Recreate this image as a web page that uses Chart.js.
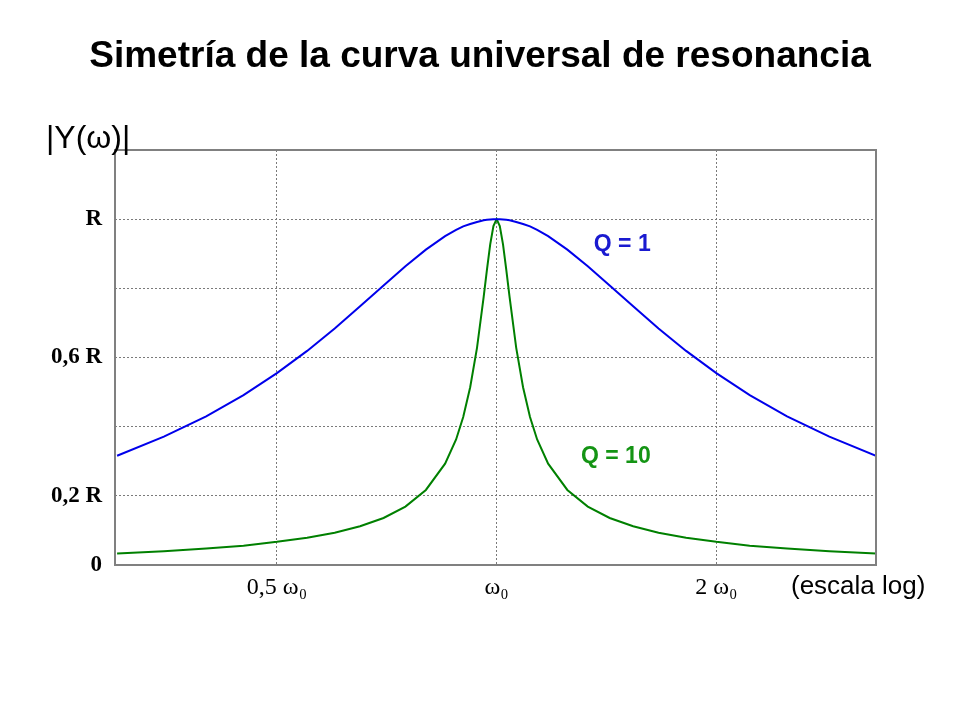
<!DOCTYPE html>
<html>
<head>
<meta charset="utf-8">
<script src="https://cdn.jsdelivr.net/npm/chart.js@4.4.1/dist/chart.umd.min.js"></script>
<style>
  body { margin: 0; background: #fff; }
  #wrap { width: 960px; height: 720px; position: relative; }
</style>
</head>
<body>
<div id="wrap"><canvas id="chart"></canvas></div>
<script>
// omega / omega0 (log axis)
const freq = [0.302, 0.35, 0.4, 0.45, 0.5, 0.55, 0.6, 0.65, 0.7, 0.75, 0.8, 0.85, 0.88, 0.9, 0.92, 0.94, 0.96, 0.97, 0.98, 0.99,
  1.0,
  1.0101, 1.0204, 1.0309, 1.0417, 1.0638, 1.087, 1.1111, 1.1364, 1.1765, 1.25, 1.3333, 1.4286, 1.5385, 1.6667, 1.8182, 2.0, 2.2222, 2.5, 2.8571, 3.31];

// |Y| / R for Q = 1
const ampQ1 = [0.316, 0.371, 0.430, 0.491, 0.555, 0.619, 0.684, 0.748, 0.808, 0.864, 0.912, 0.951, 0.969, 0.979, 0.986, 0.992, 0.997, 0.998, 0.999, 1.000,
  1.000,
  1.000, 0.999, 0.998, 0.997, 0.992, 0.986, 0.979, 0.969, 0.951, 0.912, 0.864, 0.808, 0.748, 0.684, 0.619, 0.555, 0.491, 0.430, 0.371, 0.316];

// |Y| / R for Q = 10
const ampQ10 = [0.033, 0.040, 0.048, 0.056, 0.067, 0.079, 0.093, 0.112, 0.136, 0.169, 0.217, 0.293, 0.363, 0.428, 0.514, 0.628, 0.775, 0.854, 0.927, 0.980,
  1.000,
  0.980, 0.927, 0.854, 0.775, 0.628, 0.514, 0.428, 0.363, 0.293, 0.217, 0.169, 0.136, 0.112, 0.093, 0.079, 0.067, 0.056, 0.048, 0.040, 0.033];

const xTicks = [0.5, 1, 2];
const xTickLabels = ["0,5 ω₀", "ω₀", "2 ω₀"];
const yTickLabels = { "0": "0", "0.2": "0,2 R", "0.6": "0,6 R", "1": "R" };

const curveLabels = [
  { text: "Q = 1", x: 1.626, y: 0.925, color: "#1a1ad0" },
  { text: "Q = 10", x: 1.626, y: 0.313, color: "#149414" }
];

const GRID = "#7a7a7a";

// frame + free text
const decorations = {
  id: "decorations",
  afterDraw(chart) {
    const ctx = chart.ctx;
    const a = chart.chartArea;
    const xs = chart.scales.x, ys = chart.scales.y;
    ctx.save();
    ctx.strokeStyle = "#808080";
    ctx.lineWidth = 2;
    ctx.strokeRect(a.left, a.top, a.right - a.left, a.bottom - a.top);

    ctx.font = "bold 23px 'Liberation Sans', Arial, sans-serif";
    ctx.textAlign = "right";
    ctx.textBaseline = "middle";
    curveLabels.forEach(l => {
      ctx.fillStyle = l.color;
      ctx.fillText(l.text, xs.getPixelForValue(l.x), ys.getPixelForValue(l.y));
    });

    ctx.fillStyle = "#000";
    ctx.textAlign = "left";
    ctx.textBaseline = "alphabetic";
    ctx.font = "32px 'Liberation Sans', Arial, sans-serif";
    ctx.fillText("|Y(ω)|", 46, 148);

    ctx.font = "26px 'Liberation Sans', Arial, sans-serif";
    ctx.fillText("(escala log)", 791, 594);
    ctx.restore();
  }
};

new Chart(document.getElementById("chart"), {
  type: "line",
  data: {
    datasets: [
      {
        label: "Q = 1",
        data: freq.map((f, i) => ({ x: f, y: ampQ1[i] })),
        borderColor: "rgb(0, 0, 235)",
        borderWidth: 2,
        pointRadius: 0,
        fill: false,
        tension: 0
      },
      {
        label: "Q = 10",
        data: freq.map((f, i) => ({ x: f, y: ampQ10[i] })),
        borderColor: "rgb(0, 128, 0)",
        borderWidth: 2,
        pointRadius: 0,
        fill: false,
        tension: 0
      }
    ]
  },
  options: {
    responsive: true,
    maintainAspectRatio: false,
    animation: false,
    layout: { padding: 0 },
    plugins: {
      legend: { display: false },
      tooltip: { enabled: false },
      title: {
        display: true,
        text: "Simetría de la curva universal de resonancia",
        color: "#000",
        font: { family: "'Liberation Sans', Arial, sans-serif", size: 37, weight: "bold" },
        padding: { top: 35, bottom: 70.6 }
      }
    },
    scales: {
      x: {
        type: "logarithmic",
        min: 0.302,
        max: 3.31,
        afterBuildTicks: s => { s.ticks = xTicks.map(v => ({ value: v })); },
        afterFit: s => { s.height = 155; },
        ticks: {
          autoSkip: false,
          maxRotation: 0,
          padding: 8,
          color: "#000",
          font: { family: "'Liberation Serif', 'Times New Roman', serif", size: 24 },
          callback: (v, i) => xTickLabels[i]
        },
        grid: { color: GRID, lineWidth: 1, drawTicks: false },
        border: { display: false, dash: [2, 2] }
      },
      y: {
        min: 0,
        max: 1.2,
        afterFit: s => { s.width = 115; },
        ticks: {
          stepSize: 0.2,
          padding: 13,
          color: "#000",
          font: { family: "'Liberation Serif', 'Times New Roman', serif", size: 23, weight: "bold" },
          callback: v => yTickLabels[String(Math.round(v * 10) / 10)] || ""
        },
        grid: { color: GRID, lineWidth: 1, drawTicks: false },
        border: { display: false, dash: [2, 2] }
      },
      // empty right margin so the title stays centred on the page
      yRight: {
        position: "right",
        min: 0,
        max: 1.2,
        afterFit: s => { s.width = 84; },
        ticks: { display: false },
        grid: { display: false },
        border: { display: false }
      }
    }
  },
  plugins: [decorations]
});
</script>
</body>
</html>
